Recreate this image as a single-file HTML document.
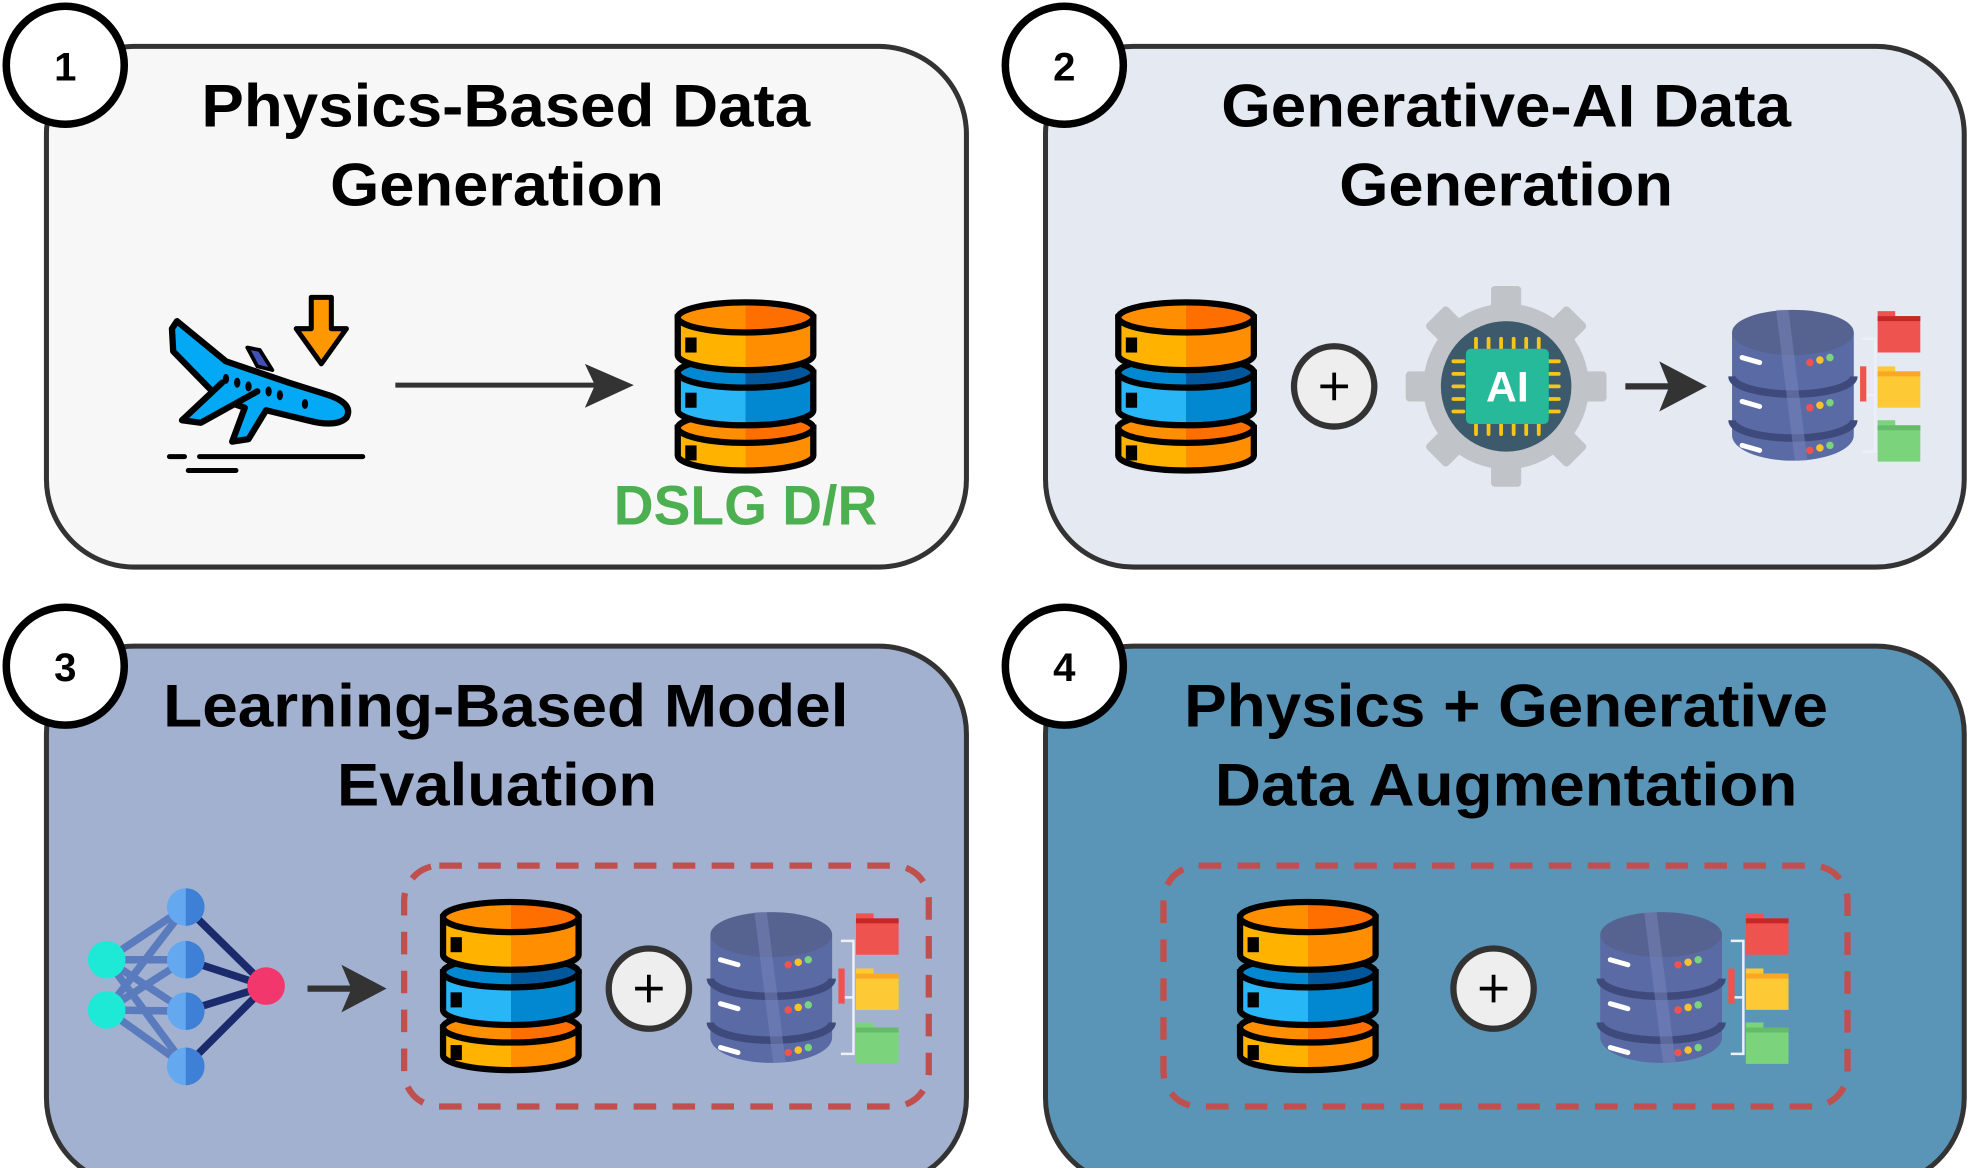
<!DOCTYPE html>
<html><head><meta charset="utf-8"><style>html,body{margin:0;padding:0;background:#fff}svg{display:block}</style></head>
<body>
<svg width="1968" height="1168" viewBox="0 0 1568 931" preserveAspectRatio="none" xmlns="http://www.w3.org/2000/svg" font-family="'Liberation Sans',sans-serif">
<defs>
<linearGradient id="gO" x1="0" x2="1"><stop offset="0.5" stop-color="#ffb300"/><stop offset="0.5" stop-color="#ff8f00"/></linearGradient>
<linearGradient id="gOt" x1="0" x2="1"><stop offset="0.5" stop-color="#ff8f00"/><stop offset="0.5" stop-color="#ff6f00"/></linearGradient>
<linearGradient id="gB" x1="0" x2="1"><stop offset="0.5" stop-color="#29b6f6"/><stop offset="0.5" stop-color="#0288d1"/></linearGradient>
<linearGradient id="gBt" x1="0" x2="1"><stop offset="0.5" stop-color="#0288d1"/><stop offset="0.5" stop-color="#01579b"/></linearGradient>
<g id="db">
 <g stroke="#000" stroke-width="5">
  <path d="M3,104 v22 a54,12 0 0 0 108,0 v-22 z" fill="url(#gO)"/>
  <ellipse cx="57" cy="104" rx="54" ry="12" fill="url(#gOt)"/>
  <path d="M3,60 v30 a54,12 0 0 0 108,0 v-30 z" fill="url(#gB)"/>
  <ellipse cx="57" cy="60" rx="54" ry="12" fill="url(#gBt)"/>
  <path d="M3,16 v30 a54,12 0 0 0 108,0 v-30 z" fill="url(#gO)"/>
  <ellipse cx="57" cy="16" rx="54" ry="12" fill="url(#gOt)"/>
 </g>
 <rect x="9" y="32" width="9" height="12" fill="#000"/>
 <rect x="9" y="76" width="9" height="12" fill="#000"/>
 <rect x="9" y="118" width="9" height="12" fill="#000"/>
</g>
<g id="srv">
 <path d="M0,20 v82 a48,20 0 0 0 97,0 v-82 z" fill="#5a6aa5"/>
 <path d="M0,55 a48,14 0 0 0 97,0" fill="none" stroke="#3f4a7c" stroke-width="6"/>
 <path d="M0,90 a48,14 0 0 0 97,0" fill="none" stroke="#3f4a7c" stroke-width="6"/>
 <ellipse cx="48.5" cy="20" rx="48.5" ry="18" fill="#56628f"/>
 <path d="M35,2 L50,122 L60,122 L45,2 z" fill="#7885bb" opacity="0.5"/>
 <g stroke="#fff" stroke-width="4" stroke-linecap="round"><path d="M8,40 l14,4"/><path d="M8,75 l14,4"/><path d="M8,110 l14,4"/></g>
 <g><circle cx="62" cy="44" r="3" fill="#f0524f"/><circle cx="70" cy="42" r="3" fill="#fbc02d"/><circle cx="78" cy="40" r="3" fill="#7bd37b"/>
 <circle cx="62" cy="80" r="3" fill="#f0524f"/><circle cx="70" cy="78" r="3" fill="#fbc02d"/><circle cx="78" cy="76" r="3" fill="#7bd37b"/>
 <circle cx="62" cy="114" r="3" fill="#f0524f"/><circle cx="70" cy="112" r="3" fill="#fbc02d"/><circle cx="78" cy="110" r="3" fill="#7bd37b"/></g>
 <path d="M104,25 h10 v90 h-10 M104,70 h10" stroke="#eef0f8" stroke-width="2" fill="none"/>
 <rect x="102" y="47" width="5" height="28" fill="#ef5350"/>
 <path d="M116,3 h14 v4 h20 v29 h-34 z" fill="#ef5350"/><rect x="116" y="7" width="34" height="4" fill="#c62828"/>
 <path d="M116,47 h14 v4 h20 v29 h-34 z" fill="#fdca35"/><rect x="116" y="51" width="34" height="4" fill="#f9a825"/>
 <path d="M116,90 h14 v4 h20 v29 h-34 z" fill="#7bd37b"/><rect x="116" y="94" width="34" height="4" fill="#66bb6a"/>
</g>
<g id="plus"><circle r="32" fill="#eee" stroke="#333" stroke-width="5"/><path d="M-11,0 h22 M0,-11 v22" stroke="#000" stroke-width="3"/></g>
</defs>

<rect x="37" y="37" width="733" height="415" rx="70" fill="#f7f7f7" stroke="#333" stroke-width="4"/>
<rect x="833" y="37" width="732" height="415" rx="70" fill="#e4e9f2" stroke="#333" stroke-width="4"/>
<rect x="37" y="515" width="733" height="430" rx="70" fill="#a3b1d0" stroke="#333" stroke-width="4"/>
<rect x="833" y="515" width="732" height="430" rx="70" fill="#5a95b8" stroke="#333" stroke-width="4"/>

<g stroke="#000" stroke-width="6" fill="#fff">
<circle cx="52" cy="52" r="47"/><circle cx="848" cy="52" r="47"/><circle cx="52" cy="531" r="47"/><circle cx="848" cy="531" r="47"/></g>
<g font-weight="bold" font-size="32" text-anchor="middle">
<text x="52" y="64">1</text><text x="848" y="64">2</text><text x="52" y="543">3</text><text x="848" y="543">4</text></g>

<g font-weight="bold" font-size="48" text-anchor="middle" fill="#000">
<text x="403" y="101" textLength="485" lengthAdjust="spacingAndGlyphs">Physics-Based Data</text>
<text x="396" y="164" textLength="266" lengthAdjust="spacingAndGlyphs">Generation</text>
<text x="1200" y="101" textLength="454" lengthAdjust="spacingAndGlyphs">Generative-AI Data</text>
<text x="1200" y="164" textLength="266" lengthAdjust="spacingAndGlyphs">Generation</text>
<text x="403" y="579" textLength="546" lengthAdjust="spacingAndGlyphs">Learning-Based Model</text>
<text x="396" y="642" textLength="255" lengthAdjust="spacingAndGlyphs">Evaluation</text>
<text x="1200" y="579" textLength="513" lengthAdjust="spacingAndGlyphs">Physics + Generative</text>
<text x="1200" y="642" textLength="464" lengthAdjust="spacingAndGlyphs">Data Augmentation</text>
</g>

<g stroke="#000" stroke-width="5" stroke-linejoin="round" stroke-linecap="round">
 <path d="M137,262 L141,256 L180,288 L230,305 L262,315 Q282,322 276,333 Q268,341 245,335 L212,327 L198,350 L185,352 L195,325 L175,318 L138,280 Z" fill="#03a9f4"/>
 <path d="M177,305 L145,335 L160,337 L205,312" fill="#03a9f4"/>
 <path d="M197,277 L207,279 L217,295 L205,292 Z" fill="#3f51b5" stroke-width="3"/>
 <path d="M248,237 h16 v25 h12 l-20,28 l-20,-28 h12 z" fill="#ff9800" stroke-width="4"/>
 <path d="M135,364 h12 M159,364 h130 M150,375 h38" stroke-width="4"/>
</g>
<g fill="#000"><ellipse cx="180" cy="302" rx="2.5" ry="4"/><ellipse cx="189" cy="305" rx="2.5" ry="4"/><ellipse cx="198" cy="308" rx="2.5" ry="4"/><ellipse cx="214" cy="312" rx="2.5" ry="4"/><ellipse cx="223" cy="315" rx="2.5" ry="4"/><ellipse cx="243" cy="322" rx="2.5" ry="4"/></g>
<path d="M315,307 H480" stroke="#333" stroke-width="4"/>
<path d="M466,290 L505,307 L466,325 L474,307 Z" fill="#333"/>
<use href="#db" x="537" y="237"/>
<text x="594" y="418" font-weight="bold" font-size="44" fill="#4caf50" text-anchor="middle" textLength="210" lengthAdjust="spacingAndGlyphs">DSLG D/R</text>

<use href="#db" x="888" y="237"/>
<use href="#plus" x="1063" y="308"/>
<g transform="translate(1200,308)">
 <g fill="#c0c4c8">
  <circle r="66"/>
  <g id="tooth"><rect x="-12" y="-80" width="24" height="20" rx="3"/></g>
  <use href="#tooth" transform="rotate(45)"/><use href="#tooth" transform="rotate(90)"/><use href="#tooth" transform="rotate(135)"/>
  <use href="#tooth" transform="rotate(180)"/><use href="#tooth" transform="rotate(225)"/><use href="#tooth" transform="rotate(270)"/><use href="#tooth" transform="rotate(315)"/>
 </g>
 <circle r="52" fill="#3d5a6c"/>
 <g stroke="#f5c518" stroke-width="3" stroke-linecap="round">
  <path d="M-24,-38 v8 M-14,-38 v8 M-4,-38 v8 M6,-38 v8 M16,-38 v8 M26,-38 v8"/>
  <path d="M-24,30 v8 M-14,30 v8 M-4,30 v8 M6,30 v8 M16,30 v8 M26,30 v8"/>
  <path d="M-42,-20 h8 M-42,-10 h8 M-42,0 h8 M-42,10 h8 M-42,20 h8"/>
  <path d="M34,-20 h8 M34,-10 h8 M34,0 h8 M34,10 h8 M34,20 h8"/>
 </g>
 <rect x="-32" y="-30" width="66" height="60" rx="4" fill="#26b99a"/>
 <text x="1" y="12" font-weight="bold" font-size="34" fill="#fff" text-anchor="middle">AI</text>
</g>
<path d="M1295,308 H1335" stroke="#333" stroke-width="5"/>
<path d="M1322,288 L1360,308 L1322,328 L1330,308 Z" fill="#333"/>
<use href="#srv" x="1380" y="245"/>

<g stroke-width="6">
 <g stroke="#5a7bbd"><path d="M85,765 L148,723 M85,765 L148,765 M85,765 L148,806 M85,805 L148,723 M85,805 L148,765 M85,805 L148,806 M85,805 L148,850 M85,765 L148,850"/></g>
 <g stroke="#1a2a6c"><path d="M148,723 L212,786 M148,765 L212,786 M148,806 L212,786 M148,850 L212,786"/></g>
</g>
<g><circle cx="85" cy="765" r="15" fill="#1de9d6"/><circle cx="85" cy="805" r="15" fill="#1de9d6"/>
<g fill="#64a8f0"><circle cx="148" cy="723" r="15"/><circle cx="148" cy="765" r="15"/><circle cx="148" cy="806" r="15"/><circle cx="148" cy="850" r="15"/></g>
<g fill="#3d80d6"><path d="M148,708 a15,15 0 0 1 0,30 z"/><path d="M148,750 a15,15 0 0 1 0,30 z"/><path d="M148,791 a15,15 0 0 1 0,30 z"/><path d="M148,835 a15,15 0 0 1 0,30 z"/></g>
<circle cx="212" cy="786" r="15" fill="#f2376d"/></g>
<path d="M245,788 H285" stroke="#333" stroke-width="5"/>
<path d="M272,769 L308,788 L272,807 L280,788 Z" fill="#333"/>
<rect x="322" y="690" width="418" height="192" rx="28" fill="none" stroke="#c0504d" stroke-width="5" stroke-dasharray="18,13"/>
<use href="#db" x="350" y="715"/>
<use href="#plus" x="517" y="788"/>
<use href="#srv" x="566" y="725"/>

<rect x="927" y="690" width="545" height="192" rx="28" fill="none" stroke="#c0504d" stroke-width="5" stroke-dasharray="18,13"/>
<use href="#db" x="985" y="715"/>
<use href="#plus" x="1190" y="788"/>
<use href="#srv" x="1275" y="725"/>
</svg>
</body></html>
